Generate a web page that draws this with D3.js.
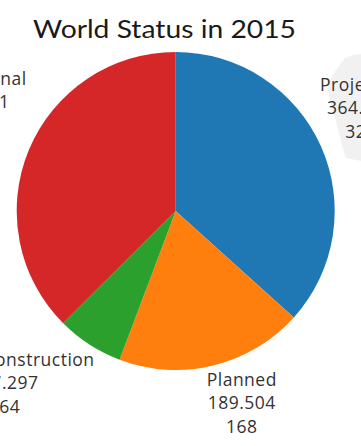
<!DOCTYPE html>
<html>
<head>
<meta charset="utf-8">
<script src="https://cdn.jsdelivr.net/npm/d3@7"></script>
<style>
    html, body { margin: 0; padding: 0; background: #fff; overflow: hidden; }
    svg { display: block; }
</style>
</head>
<body>
<div id="chart"></div>
<script>
// data
const categories = ["Projected", "Planned", "Under Construction", "Operational"];
const capacities = [364.386, 189.504, 67.297, 372.531];
const capacityLabels = ["364.386", "189.504", "67.297", "372.531"];
const counts = ["325", "168", "64", "521"];
const colors = ["#1f77b4", "#ff7f0e", "#2ca02c", "#d62728"];

// where each label sits: angle (deg, clockwise from top) and distance from centre
const labelLayout = {
    "Projected": {angle: 61, dist: 212},
    "Planned": {angle: 161, dist: 203},
    "Under Construction": {angle: 224, dist: 239},
    "Operational": {angle: 298.5, dist: 228}
};

function drawPie() {
    const width = 361, height = 446;
    const cx = 175.7, cy = 211, radius = 159;

    const svg = d3.select("#chart")
        .append("svg")
        .attr("width", width)
        .attr("height", height);

    // faint grey shape behind the Projected label
    svg.append("path")
        .attr("d", "M345,58 L353,55 L361,54 L361,161 L346,158 L341,141 L336,122 L330,100 L327,85 L336,70 Z")
        .attr("fill", "#f1f1f1");

    // title
    svg.append("text")
        .attr("x", 164.5)
        .attr("y", 38)
        .attr("text-anchor", "middle")
        .style("font-family", "Lato, 'Open Sans', sans-serif")
        .style("font-size", "25px")
        .attr("textLength", 263)
        .attr("lengthAdjust", "spacingAndGlyphs")
        .attr("fill", "#1a1a1a")
        .text("World Status in 2015");

    const data = categories.map((c, i) => ({
        name: c, value: capacities[i], label: capacityLabels[i], count: counts[i], color: colors[i]
    }));

    const pie = d3.pie()
        .sort(null)
        .value(d => d.value);

    const arc = d3.arc()
        .innerRadius(0)
        .outerRadius(radius);

    const g = svg.append("g")
        .attr("transform", "translate(" + cx + "," + cy + ")");

    g.selectAll("path.slice")
        .data(pie(data))
        .join("path")
        .attr("class", "slice")
        .attr("d", arc)
        .attr("fill", d => d.data.color);

    // labels: name, value, count on three centred lines
    const lineH = 23.5;
    const labels = g.selectAll("text.lab")
        .data(pie(data))
        .join("text")
        .attr("class", "lab")
        .attr("text-anchor", "middle")
        .style("font-family", "'Open Sans', sans-serif")
        .style("font-size", "17.5px")
        .style("letter-spacing", "0.5px")
        .attr("fill", "#333")
        .attr("transform", d => {
            const p = labelLayout[d.data.name];
            const a = p.angle * Math.PI / 180;
            return "translate(" + (Math.sin(a) * p.dist) + "," + (-Math.cos(a) * p.dist) + ")";
        });

    labels.each(function(d) {
        const t = d3.select(this);
        [d.data.name, d.data.label, d.data.count].forEach((s, i) => {
            t.append("tspan")
                .attr("x", 0)
                .attr("y", (i - 1) * lineH)
                .attr("dy", "0.35em")
                .text(s);
        });
    });
}

drawPie();
</script>
</body>
</html>
